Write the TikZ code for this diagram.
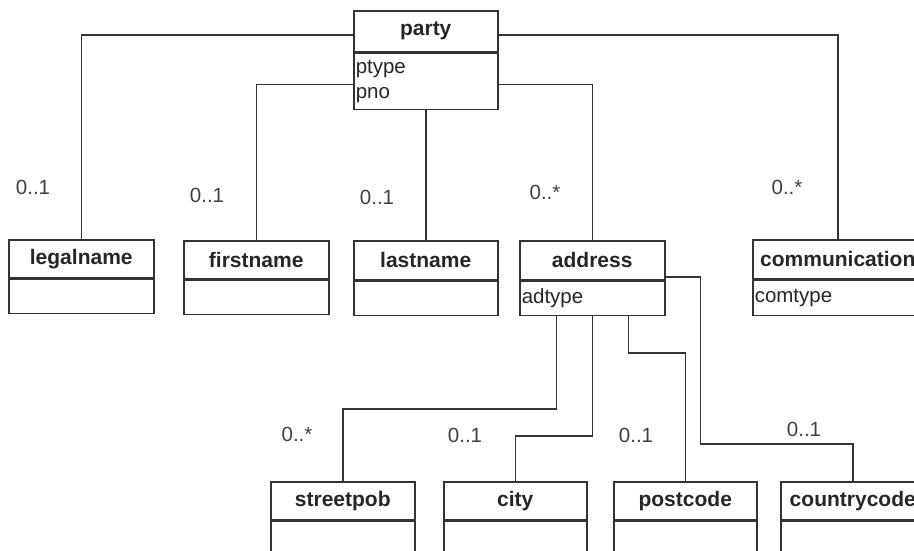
\documentclass[tikz,border=0pt]{standalone}
\usepackage{fontspec}
\setmainfont{Liberation Sans}
\usetikzlibrary{positioning}

\definecolor{linegray}{HTML}{333333}
\definecolor{labelgray}{HTML}{404040}

\tikzset{every picture/.append style={x=1pt, y=-1pt}}
\tikzset{
  classhead/.style={draw=linegray, line width=1.5pt, anchor=north west, inner sep=0pt,
    minimum height=39pt, font=\fontsize{21}{24}\selectfont\bfseries, text=black!85},
  classbody/.style={draw=linegray, line width=1.5pt, anchor=north west, inner xsep=2pt,
    inner ysep=0pt, minimum height=34pt, align=left, text=black!85,
    font=\fontsize{20.5}{25}\selectfont},
  assoc/.style={draw=linegray, line width=1.5pt},
  mult/.style={font=\fontsize{20.5}{24}\selectfont, text=labelgray}
}

\begin{document}
\begin{tikzpicture}
  \useasboundingbox (0,0) rectangle (914,550);
  \clip (0,0) rectangle (914,550);
  % classes
  \node[classhead, minimum width=144pt, minimum height=41pt] (party) at(353,10){party};
  \node[classbody, text width=140pt, minimum height=56pt] (partybody) at(party.south west){ptype\\pno};
  \node[classhead, minimum width=145pt, minimum height=38pt] (legalname) at(8,239){legalname};
  \node[classbody, text width=141pt] (legalnamebody) at(legalname.south west){};
  \node[classhead, minimum width=145pt, minimum height=38pt] (firstname) at(183,240){firstname};
  \node[classbody, text width=141pt] (firstnamebody) at(firstname.south west){};
  \node[classhead, minimum width=144pt] (lastname) at(353,240){lastname};
  \node[classbody, text width=140pt] (lastnamebody) at(lastname.south west){};
  \node[classhead, minimum width=145pt] (address) at(519,240){address};
  \node[classbody, text width=141pt] (addressbody) at(address.south west){adtype};
  \node[classhead, minimum width=170pt] (communication) at(752,239){communication};
  \node[classbody, text width=166pt, minimum height=35pt] (communicationbody) at(communication.south west){comtype};
  \node[classhead, minimum width=144pt, minimum height=38pt] (streetpob) at(270,481){streetpob};
  \node[classbody, text width=140pt, minimum height=60pt] (streetpobbody) at(streetpob.south west){};
  \node[classhead, minimum width=143pt, minimum height=38pt] (city) at(443,481){city};
  \node[classbody, text width=139pt, minimum height=60pt] (citybody) at(city.south west){};
  \node[classhead, minimum width=143pt, minimum height=38pt] (postcode) at(613,481){postcode};
  \node[classbody, text width=139pt, minimum height=60pt] (postcodebody) at(postcode.south west){};
  \node[classhead, minimum width=144pt, minimum height=38pt] (countrycode) at(780,481){countrycode};
  \node[classbody, text width=140pt, minimum height=60pt] (countrycodebody) at(countrycode.south west){};

  % associations of party
  \draw[assoc] ([yshift=-3.5pt]party.west) -| (legalname.north);
  \draw[assoc] ([yshift=-3pt]partybody.west) -| (firstname.north);
  \draw[assoc] (partybody.south) -- (lastname.north);
  \draw[assoc] ([yshift=-3pt]partybody.east) -| (address.north);
  \draw[assoc] ([yshift=-3.5pt]party.east) -| (communication.north);

  % associations of address
  \draw[assoc] ([xshift=-36pt]addressbody.south) -- ++(0,93) -| (streetpob.north);
  \draw[assoc] (addressbody.south) -- ++(0,120) -| (city.north);
  \draw[assoc] ([xshift=36pt]addressbody.south) -- ++(0,37) -| (postcode.north);
  \draw[assoc] ([yshift=-16.5pt]address.east) -- ++(35,0) -- ++(0,167) -| (countrycode.north);

  % multiplicities
  \node[mult] (mlegalname) at(33,187){0..1};
  \node[mult] (mfirstname) at(207,195){0..1};
  \node[mult] (mlastname) at(377,197){0..1};
  \node[mult] (maddress) at(545,192){0..*};
  \node[mult] (mcommunication) at(787,187){0..*};
  \node[mult] (mstreetpob) at(297,434){0..*};
  \node[mult] (mcity) at(465,435){0..1};
  \node[mult] (mpostcode) at(636,435){0..1};
  \node[mult] (mcountrycode) at(804,429){0..1};
\end{tikzpicture}
\end{document}
